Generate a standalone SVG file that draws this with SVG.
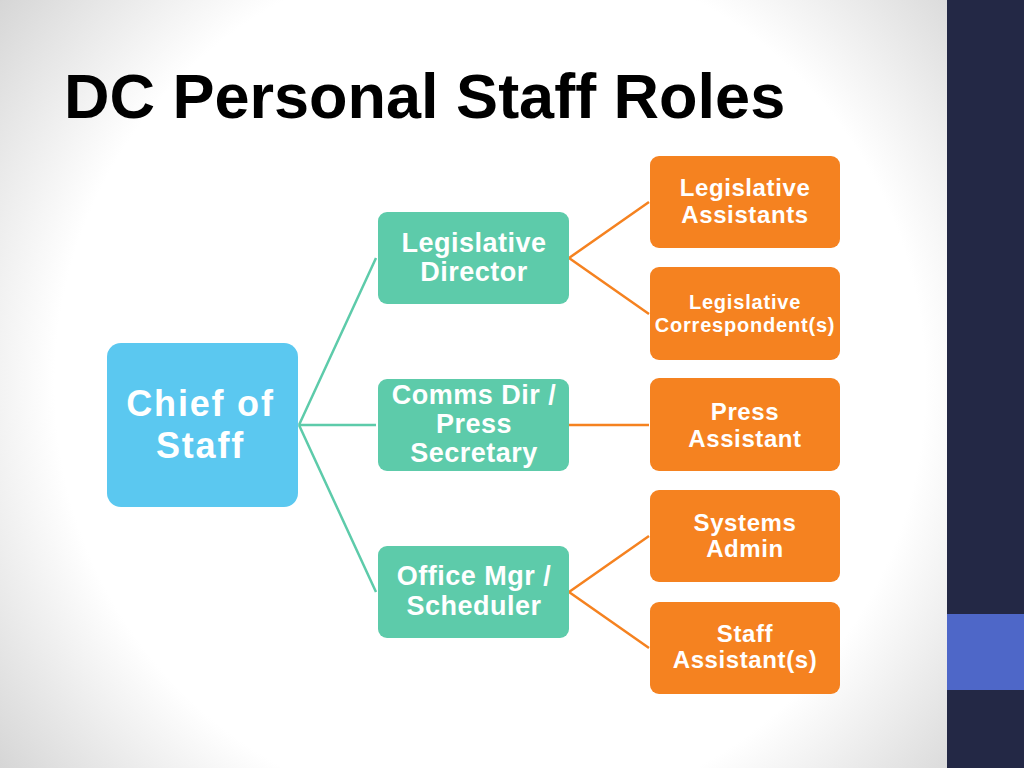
<svg xmlns="http://www.w3.org/2000/svg" width="1024" height="768" viewBox="0 0 1024 768">
<defs>
<radialGradient id="bg" cx="490" cy="384" r="640" gradientUnits="userSpaceOnUse">
<stop offset="0" stop-color="#ffffff"/>
<stop offset="0.68" stop-color="#ffffff"/>
<stop offset="1" stop-color="#d2d2d2"/>
</radialGradient>
<style>
.t{font-family:"Liberation Sans",Arial,sans-serif;font-weight:bold;fill:#ffffff;text-anchor:middle}
.m{font-size:27px;letter-spacing:0.5px}
.o{font-size:24px;letter-spacing:0.6px}
.blue{fill:#5BC8F0}
.green{fill:#5DCBAA}
.orange{fill:#F58220}
.cg{stroke:#5DCBAA;stroke-width:2.5;fill:none}
.co{stroke:#F58220;stroke-width:2.5;fill:none}
</style>
</defs>
<rect x="0" y="0" width="1024" height="768" fill="url(#bg)"/>
<rect x="947" y="0" width="77" height="768" fill="#232845"/>
<rect x="947" y="614" width="77" height="76" fill="#4E67C8"/>
<text x="64" y="118" font-family="Liberation Sans,Arial,sans-serif" font-weight="bold" font-size="63" fill="#000000">DC Personal Staff Roles</text>

<g id="connectors">
<path class="cg" d="M299,425 L376,258 M299,425 L376,425 M299,425 L376,592"/>
<path class="co" d="M569,258 L649,202 M569,258 L649,314 M569,425 L649,425 M569,592 L649,536 M569,592 L649,648"/>
</g>

<g id="chief">
<rect class="blue" x="107" y="343" width="191" height="164" rx="14"/>
<text class="t" font-size="36" letter-spacing="1.8" x="200.5" y="416">Chief of</text>
<text class="t" font-size="36" letter-spacing="1.8" x="200.5" y="458">Staff</text>
</g>

<g id="legdir">
<rect class="green" x="378" y="212" width="191" height="92" rx="9"/>
<text class="t m" x="474" y="252">Legislative</text>
<text class="t m" x="474" y="281">Director</text>
</g>

<g id="comms">
<rect class="green" x="378" y="379" width="191" height="92" rx="9"/>
<text class="t m" x="474" y="404">Comms Dir /</text>
<text class="t m" x="474" y="433">Press</text>
<text class="t m" x="474" y="462">Secretary</text>
</g>

<g id="officemgr">
<rect class="green" x="378" y="546" width="191" height="92" rx="9"/>
<text class="t m" x="474" y="585">Office Mgr /</text>
<text class="t m" x="474" y="615">Scheduler</text>
</g>

<g id="legassist">
<rect class="orange" x="650" y="156" width="190" height="92" rx="9"/>
<text class="t o" x="745" y="196">Legislative</text>
<text class="t o" x="745" y="223">Assistants</text>
</g>

<g id="legcorr">
<rect class="orange" x="650" y="267" width="190" height="93" rx="9"/>
<text class="t" font-size="20" letter-spacing="0.8" x="745" y="309">Legislative</text>
<text class="t" font-size="20" letter-spacing="0.8" x="745" y="332">Correspondent(s)</text>
</g>

<g id="pressassist">
<rect class="orange" x="650" y="378" width="190" height="93" rx="9"/>
<text class="t o" x="745" y="420">Press</text>
<text class="t o" x="745" y="447">Assistant</text>
</g>

<g id="sysadmin">
<rect class="orange" x="650" y="490" width="190" height="92" rx="9"/>
<text class="t o" x="745" y="531">Systems</text>
<text class="t o" x="745" y="557">Admin</text>
</g>

<g id="staffassist">
<rect class="orange" x="650" y="602" width="190" height="92" rx="9"/>
<text class="t o" x="745" y="642">Staff</text>
<text class="t o" x="745" y="668">Assistant(s)</text>
</g>
</svg>
